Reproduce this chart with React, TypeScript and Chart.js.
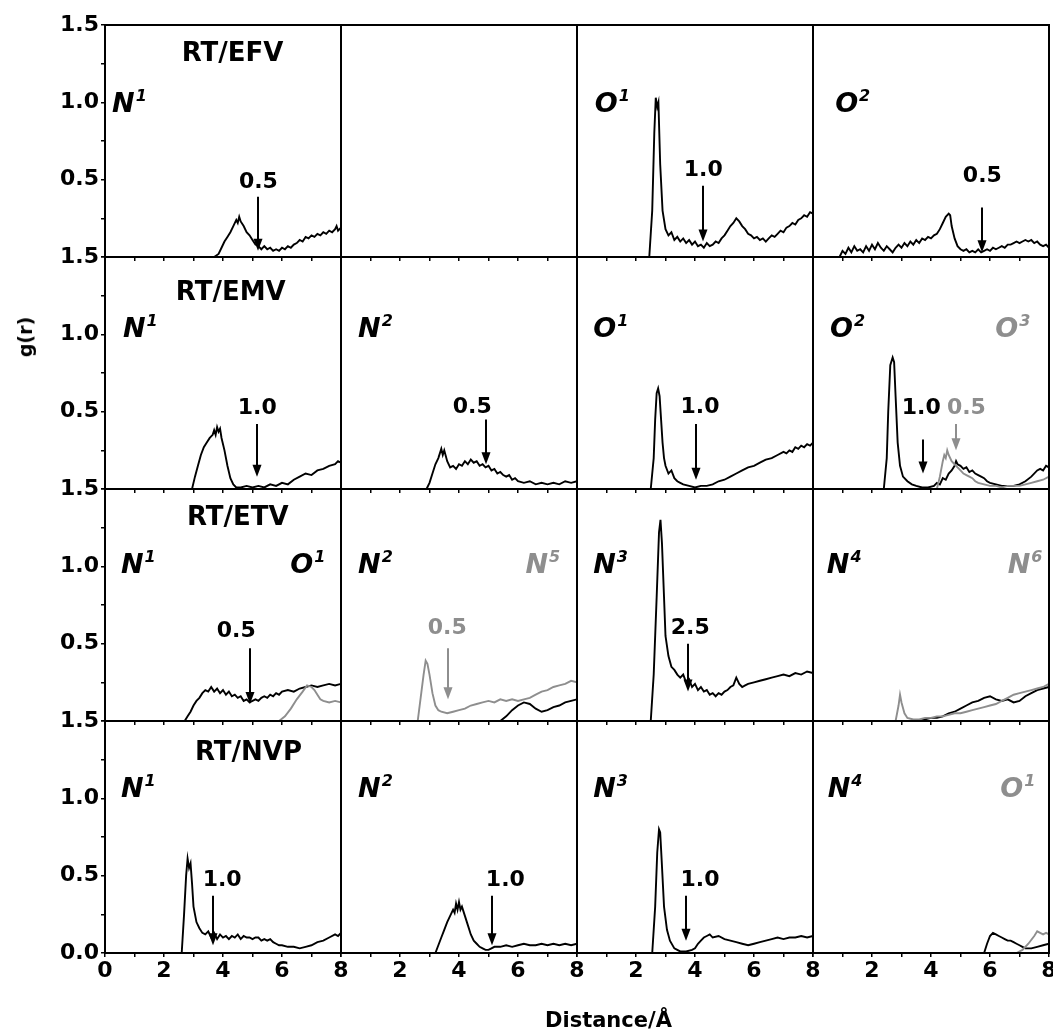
import React, { useEffect, useRef } from 'react';
import { Chart, registerables } from 'chart.js';

Chart.register(...registerables);

type Pt = [number, number];

// ---------- data: g(r) curves, [distance Å, g(r)] ----------
const EFV_N1: Pt[] = [[3.7,0],[3.85,0.02],[3.95,0.06],[4.05,0.1],[4.15,0.13],[4.25,0.16],[4.35,0.2],[4.45,0.24],[4.5,0.22],[4.55,0.26],[4.6,0.23],[4.7,0.2],[4.8,0.16],[4.9,0.14],[5.0,0.11],[5.1,0.08],[5.2,0.07],[5.3,0.05],[5.4,0.07],[5.5,0.05],[5.6,0.06],[5.7,0.04],[5.8,0.05],[5.9,0.04],[6.0,0.06],[6.1,0.05],[6.2,0.07],[6.3,0.06],[6.4,0.08],[6.5,0.09],[6.6,0.11],[6.7,0.1],[6.8,0.13],[6.9,0.12],[7.0,0.14],[7.1,0.13],[7.2,0.15],[7.3,0.14],[7.4,0.16],[7.5,0.15],[7.6,0.17],[7.7,0.16],[7.8,0.18],[7.85,0.2],[7.9,0.17],[8.0,0.19]];
const EFV_O1: Pt[] = [[2.45,0],[2.55,0.3],[2.62,0.8],[2.67,1.03],[2.72,0.97],[2.76,1.0],[2.82,0.6],[2.9,0.3],[3.0,0.18],[3.1,0.14],[3.2,0.16],[3.3,0.11],[3.4,0.13],[3.5,0.1],[3.6,0.12],[3.7,0.09],[3.8,0.11],[3.9,0.08],[4.0,0.1],[4.1,0.07],[4.2,0.08],[4.3,0.06],[4.4,0.09],[4.5,0.07],[4.6,0.08],[4.7,0.1],[4.8,0.09],[4.9,0.12],[5.0,0.14],[5.1,0.17],[5.2,0.2],[5.3,0.22],[5.4,0.25],[5.5,0.23],[5.6,0.2],[5.7,0.18],[5.8,0.15],[5.9,0.14],[6.0,0.12],[6.1,0.13],[6.2,0.11],[6.3,0.12],[6.4,0.1],[6.5,0.12],[6.6,0.14],[6.7,0.13],[6.8,0.15],[6.9,0.17],[7.0,0.16],[7.1,0.19],[7.2,0.2],[7.3,0.22],[7.4,0.21],[7.5,0.24],[7.6,0.25],[7.7,0.27],[7.8,0.26],[7.9,0.29],[8.0,0.28]];
const EFV_O2: Pt[] = [[0.9,0],[1.0,0.04],[1.1,0.02],[1.2,0.06],[1.3,0.03],[1.4,0.07],[1.5,0.04],[1.6,0.05],[1.7,0.03],[1.8,0.07],[1.9,0.04],[2.0,0.08],[2.1,0.05],[2.2,0.09],[2.3,0.06],[2.4,0.04],[2.5,0.07],[2.6,0.05],[2.7,0.03],[2.8,0.06],[2.9,0.08],[3.0,0.06],[3.1,0.09],[3.2,0.07],[3.3,0.1],[3.4,0.08],[3.5,0.11],[3.6,0.09],[3.7,0.12],[3.8,0.11],[3.9,0.13],[4.0,0.12],[4.1,0.14],[4.2,0.15],[4.3,0.18],[4.4,0.22],[4.5,0.26],[4.6,0.28],[4.65,0.27],[4.7,0.2],[4.8,0.12],[4.9,0.07],[5.0,0.05],[5.1,0.04],[5.2,0.05],[5.3,0.03],[5.4,0.04],[5.5,0.03],[5.6,0.05],[5.7,0.03],[5.8,0.04],[5.9,0.05],[6.0,0.04],[6.1,0.06],[6.2,0.05],[6.3,0.06],[6.4,0.07],[6.5,0.06],[6.6,0.08],[6.7,0.08],[6.8,0.09],[6.9,0.1],[7.0,0.09],[7.1,0.1],[7.2,0.11],[7.3,0.1],[7.4,0.11],[7.5,0.09],[7.6,0.1],[7.7,0.08],[7.8,0.07],[7.9,0.08],[8.0,0.06]];

const EMV_N1: Pt[] = [[2.95,0],[3.05,0.08],[3.15,0.15],[3.25,0.22],[3.35,0.27],[3.45,0.3],[3.55,0.33],[3.65,0.35],[3.7,0.38],[3.75,0.35],[3.8,0.4],[3.85,0.37],[3.9,0.39],[3.95,0.33],[4.05,0.25],[4.15,0.15],[4.25,0.07],[4.35,0.03],[4.45,0.01],[4.6,0.01],[4.8,0.02],[5.0,0.01],[5.2,0.02],[5.4,0.01],[5.6,0.03],[5.8,0.02],[6.0,0.04],[6.2,0.03],[6.4,0.06],[6.6,0.08],[6.8,0.1],[7.0,0.09],[7.2,0.12],[7.4,0.13],[7.6,0.15],[7.8,0.16],[7.9,0.18],[8.0,0.17]];
const EMV_N2: Pt[] = [[2.9,0],[3.0,0.04],[3.1,0.1],[3.2,0.16],[3.3,0.2],[3.4,0.26],[3.45,0.22],[3.5,0.25],[3.6,0.18],[3.7,0.14],[3.8,0.15],[3.9,0.13],[4.0,0.16],[4.1,0.15],[4.2,0.18],[4.3,0.16],[4.4,0.19],[4.5,0.17],[4.6,0.18],[4.7,0.15],[4.8,0.16],[4.9,0.14],[5.0,0.15],[5.1,0.12],[5.2,0.13],[5.3,0.1],[5.4,0.11],[5.5,0.09],[5.6,0.08],[5.7,0.09],[5.8,0.06],[5.9,0.07],[6.0,0.05],[6.2,0.04],[6.4,0.05],[6.6,0.03],[6.8,0.04],[7.0,0.03],[7.2,0.04],[7.4,0.03],[7.6,0.05],[7.8,0.04],[8.0,0.05]];
const EMV_O1: Pt[] = [[2.5,0],[2.6,0.2],[2.65,0.45],[2.7,0.62],[2.75,0.65],[2.8,0.6],[2.85,0.45],[2.9,0.3],[2.95,0.2],[3.0,0.15],[3.1,0.1],[3.2,0.12],[3.3,0.07],[3.4,0.05],[3.5,0.04],[3.6,0.03],[3.8,0.02],[4.0,0.01],[4.2,0.02],[4.4,0.02],[4.6,0.03],[4.8,0.05],[5.0,0.06],[5.2,0.08],[5.4,0.1],[5.6,0.12],[5.8,0.14],[6.0,0.15],[6.2,0.17],[6.4,0.19],[6.6,0.2],[6.8,0.22],[7.0,0.24],[7.1,0.23],[7.2,0.25],[7.3,0.24],[7.4,0.27],[7.5,0.26],[7.6,0.28],[7.7,0.27],[7.8,0.29],[7.9,0.28],[8.0,0.3]];
const EMV_O2: Pt[] = [[2.4,0],[2.5,0.2],[2.55,0.5],[2.62,0.8],[2.7,0.85],[2.75,0.82],[2.8,0.6],[2.87,0.3],[2.95,0.15],[3.05,0.08],[3.2,0.05],[3.35,0.03],[3.5,0.02],[3.7,0.01],[3.9,0.01],[4.1,0.02],[4.2,0.04],[4.3,0.03],[4.4,0.07],[4.5,0.06],[4.6,0.1],[4.7,0.12],[4.8,0.15],[4.85,0.18],[4.9,0.16],[5.0,0.15],[5.1,0.13],[5.2,0.14],[5.3,0.11],[5.4,0.12],[5.5,0.1],[5.6,0.09],[5.7,0.08],[5.8,0.07],[5.9,0.05],[6.0,0.04],[6.2,0.03],[6.4,0.02],[6.6,0.02],[6.8,0.02],[7.0,0.03],[7.2,0.05],[7.4,0.08],[7.6,0.12],[7.7,0.13],[7.8,0.12],[7.9,0.15],[8.0,0.14]];
const EMV_O3: Pt[] = [[4.2,0],[4.3,0.08],[4.4,0.18],[4.45,0.22],[4.5,0.2],[4.55,0.25],[4.6,0.22],[4.7,0.18],[4.8,0.16],[4.9,0.14],[5.0,0.12],[5.1,0.1],[5.2,0.09],[5.3,0.08],[5.4,0.07],[5.5,0.05],[5.6,0.04],[5.8,0.03],[6.0,0.02],[6.2,0.02],[6.4,0.01],[6.6,0.02],[6.8,0.02],[7.0,0.02],[7.2,0.03],[7.4,0.04],[7.6,0.05],[7.8,0.06],[8.0,0.08]];

const ETV_N1: Pt[] = [[2.7,0],[2.8,0.03],[2.9,0.06],[3.0,0.1],[3.1,0.13],[3.2,0.15],[3.3,0.18],[3.4,0.2],[3.5,0.19],[3.6,0.22],[3.7,0.19],[3.8,0.21],[3.9,0.18],[4.0,0.2],[4.1,0.17],[4.2,0.19],[4.3,0.16],[4.4,0.17],[4.5,0.15],[4.6,0.16],[4.7,0.13],[4.8,0.14],[4.9,0.12],[5.0,0.13],[5.1,0.14],[5.2,0.13],[5.3,0.15],[5.4,0.16],[5.5,0.15],[5.6,0.17],[5.7,0.16],[5.8,0.18],[5.9,0.17],[6.0,0.19],[6.2,0.2],[6.4,0.19],[6.6,0.21],[6.8,0.22],[7.0,0.23],[7.2,0.22],[7.4,0.23],[7.6,0.24],[7.8,0.23],[8.0,0.24]];
const ETV_O1: Pt[] = [[5.9,0],[6.1,0.03],[6.3,0.08],[6.5,0.14],[6.7,0.19],[6.85,0.23],[7.0,0.22],[7.1,0.2],[7.2,0.17],[7.3,0.14],[7.4,0.13],[7.6,0.12],[7.8,0.13],[8.0,0.12]];
const ETV_N2: Pt[] = [[5.4,0],[5.6,0.03],[5.8,0.07],[6.0,0.1],[6.2,0.12],[6.4,0.11],[6.6,0.08],[6.8,0.06],[7.0,0.07],[7.2,0.09],[7.4,0.1],[7.6,0.12],[7.8,0.13],[8.0,0.14]];
const ETV_N5: Pt[] = [[2.6,0],[2.7,0.15],[2.8,0.3],[2.87,0.39],[2.93,0.37],[3.0,0.3],[3.1,0.18],[3.2,0.1],[3.3,0.07],[3.4,0.06],[3.6,0.05],[3.8,0.06],[4.0,0.07],[4.2,0.08],[4.4,0.1],[4.6,0.11],[4.8,0.12],[5.0,0.13],[5.2,0.12],[5.4,0.14],[5.6,0.13],[5.8,0.14],[6.0,0.13],[6.2,0.14],[6.4,0.15],[6.6,0.17],[6.8,0.19],[7.0,0.2],[7.2,0.22],[7.4,0.23],[7.6,0.24],[7.8,0.26],[8.0,0.25]];
const ETV_N3: Pt[] = [[2.5,0],[2.6,0.3],[2.7,0.8],[2.78,1.22],[2.83,1.3],[2.88,1.15],[2.95,0.8],[3.0,0.55],[3.1,0.42],[3.2,0.35],[3.3,0.33],[3.4,0.3],[3.5,0.28],[3.6,0.3],[3.7,0.25],[3.8,0.27],[3.9,0.22],[4.0,0.24],[4.1,0.2],[4.2,0.22],[4.3,0.19],[4.4,0.2],[4.5,0.17],[4.6,0.18],[4.7,0.16],[4.8,0.18],[4.9,0.17],[5.0,0.19],[5.1,0.2],[5.2,0.22],[5.3,0.23],[5.4,0.28],[5.5,0.24],[5.6,0.22],[5.7,0.23],[5.8,0.24],[6.0,0.25],[6.2,0.26],[6.4,0.27],[6.6,0.28],[6.8,0.29],[7.0,0.3],[7.2,0.29],[7.4,0.31],[7.6,0.3],[7.8,0.32],[8.0,0.31]];
const ETV_N4: Pt[] = [[3.6,0],[3.8,0.01],[4.0,0.02],[4.2,0.02],[4.4,0.03],[4.6,0.05],[4.8,0.06],[5.0,0.08],[5.2,0.1],[5.4,0.12],[5.6,0.13],[5.8,0.15],[6.0,0.16],[6.2,0.14],[6.4,0.13],[6.6,0.14],[6.8,0.12],[7.0,0.13],[7.2,0.16],[7.4,0.18],[7.6,0.2],[7.8,0.21],[8.0,0.22]];
const ETV_N6: Pt[] = [[2.8,0],[2.9,0.1],[2.95,0.17],[3.0,0.12],[3.1,0.05],[3.2,0.02],[3.4,0.01],[3.6,0.01],[3.8,0.02],[4.0,0.02],[4.2,0.03],[4.4,0.03],[4.6,0.04],[4.8,0.05],[5.0,0.05],[5.2,0.06],[5.4,0.07],[5.6,0.08],[5.8,0.09],[6.0,0.1],[6.2,0.11],[6.4,0.13],[6.6,0.15],[6.8,0.17],[7.0,0.18],[7.2,0.19],[7.4,0.2],[7.6,0.21],[7.8,0.22],[8.0,0.24]];

const NVP_N1: Pt[] = [[2.6,0],[2.68,0.25],[2.75,0.5],[2.8,0.61],[2.85,0.55],[2.9,0.58],[2.95,0.45],[3.0,0.3],[3.1,0.2],[3.2,0.16],[3.3,0.13],[3.4,0.12],[3.5,0.14],[3.6,0.1],[3.7,0.13],[3.8,0.09],[3.9,0.12],[4.0,0.1],[4.1,0.11],[4.2,0.09],[4.3,0.11],[4.4,0.1],[4.5,0.12],[4.6,0.09],[4.7,0.11],[4.8,0.1],[4.9,0.1],[5.0,0.09],[5.1,0.1],[5.2,0.1],[5.3,0.08],[5.4,0.09],[5.5,0.08],[5.6,0.09],[5.7,0.07],[5.8,0.06],[5.9,0.05],[6.0,0.05],[6.2,0.04],[6.4,0.04],[6.6,0.03],[6.8,0.04],[7.0,0.05],[7.2,0.07],[7.4,0.08],[7.6,0.1],[7.8,0.12],[7.9,0.11],[8.0,0.13]];
const NVP_N2: Pt[] = [[3.2,0],[3.3,0.05],[3.4,0.1],[3.5,0.15],[3.6,0.2],[3.7,0.24],[3.8,0.28],[3.85,0.26],[3.9,0.32],[3.95,0.28],[4.0,0.33],[4.05,0.28],[4.1,0.3],[4.2,0.24],[4.3,0.18],[4.4,0.12],[4.5,0.08],[4.6,0.06],[4.7,0.04],[4.8,0.03],[4.9,0.02],[5.0,0.02],[5.1,0.03],[5.2,0.04],[5.4,0.04],[5.6,0.05],[5.8,0.04],[6.0,0.05],[6.2,0.06],[6.4,0.05],[6.6,0.05],[6.8,0.06],[7.0,0.05],[7.2,0.06],[7.4,0.05],[7.6,0.06],[7.8,0.05],[8.0,0.06]];
const NVP_N3: Pt[] = [[2.55,0],[2.65,0.3],[2.72,0.65],[2.78,0.8],[2.82,0.78],[2.87,0.6],[2.95,0.3],[3.05,0.15],[3.15,0.08],[3.3,0.03],[3.5,0.01],[3.7,0.01],[3.9,0.02],[4.0,0.03],[4.1,0.06],[4.2,0.08],[4.3,0.1],[4.4,0.11],[4.5,0.12],[4.6,0.1],[4.8,0.11],[5.0,0.09],[5.2,0.08],[5.4,0.07],[5.6,0.06],[5.8,0.05],[6.0,0.06],[6.2,0.07],[6.4,0.08],[6.6,0.09],[6.8,0.1],[7.0,0.09],[7.2,0.1],[7.4,0.1],[7.6,0.11],[7.8,0.1],[8.0,0.11]];
const NVP_N4: Pt[] = [[5.8,0],[5.9,0.06],[6.0,0.11],[6.1,0.13],[6.2,0.12],[6.3,0.11],[6.4,0.1],[6.5,0.09],[6.6,0.08],[6.7,0.08],[6.8,0.07],[6.9,0.06],[7.0,0.05],[7.1,0.04],[7.2,0.03],[7.4,0.03],[7.6,0.04],[7.8,0.05],[8.0,0.06]];
const NVP_O1: Pt[] = [[6.9,0],[7.1,0.02],[7.3,0.06],[7.5,0.11],[7.6,0.14],[7.7,0.13],[7.8,0.12],[7.9,0.13],[8.0,0.12]];

// ---------- axis ticks ----------
const X_MIN = 0, X_MAX = 8, X_STEP = 1;
const Y_MIN = 0, Y_MAX = 1.5, Y_STEP = 0.25;

const BLACK = '#000000';
const GRAY = '#8e8e8e';
const FONT = '"DejaVu Sans", "Liberation Sans", Arial, sans-serif';

interface Series { pts: Pt[]; color: string }
interface Arrow { x: number; yTop: number; yTip: number; label: string; lx: number; ly: number; color: string }
interface Tag { text: string; sup: string; x: number; y: number; color: string }
interface Panel { row: number; col: number; title?: { text: string; x: number; y: number }; series: Series[]; tags: Tag[]; arrows: Arrow[] }

const TITLES = ['RT/EFV', 'RT/EMV', 'RT/ETV', 'RT/NVP'];

const PANELS: Panel[] = [
  { row: 0, col: 0, title: { text: TITLES[0], x: 2.6, y: 1.27 }, series: [{ pts: EFV_N1, color: BLACK }],
    tags: [{ text: 'N', sup: '1', x: 0.24, y: 0.94, color: BLACK }],
    arrows: [{ x: 5.2, yTop: 0.39, yTip: 0.04, label: '0.5', lx: 5.2, ly: 0.48, color: BLACK }] },
  { row: 0, col: 1, series: [], tags: [], arrows: [] },
  { row: 0, col: 2, series: [{ pts: EFV_O1, color: BLACK }],
    tags: [{ text: 'O', sup: '1', x: 0.6, y: 0.94, color: BLACK }],
    arrows: [{ x: 4.28, yTop: 0.46, yTip: 0.1, label: '1.0', lx: 4.28, ly: 0.56, color: BLACK }] },
  { row: 0, col: 3, series: [{ pts: EFV_O2, color: BLACK }],
    tags: [{ text: 'O', sup: '2', x: 0.75, y: 0.94, color: BLACK }],
    arrows: [{ x: 5.74, yTop: 0.32, yTip: 0.03, label: '0.5', lx: 5.74, ly: 0.52, color: BLACK }] },

  { row: 1, col: 0, title: { text: TITLES[1], x: 2.4, y: 1.22 }, series: [{ pts: EMV_N1, color: BLACK }],
    tags: [{ text: 'N', sup: '1', x: 0.61, y: 0.98, color: BLACK }],
    arrows: [{ x: 5.16, yTop: 0.42, yTip: 0.08, label: '1.0', lx: 5.16, ly: 0.52, color: BLACK }] },
  { row: 1, col: 1, series: [{ pts: EMV_N2, color: BLACK }],
    tags: [{ text: 'N', sup: '2', x: 0.58, y: 0.98, color: BLACK }],
    arrows: [{ x: 4.9, yTop: 0.45, yTip: 0.16, label: '0.5', lx: 4.45, ly: 0.53, color: BLACK }] },
  { row: 1, col: 2, series: [{ pts: EMV_O1, color: BLACK }],
    tags: [{ text: 'O', sup: '1', x: 0.55, y: 0.98, color: BLACK }],
    arrows: [{ x: 4.04, yTop: 0.42, yTip: 0.06, label: '1.0', lx: 4.17, ly: 0.53, color: BLACK }] },
  { row: 1, col: 3, series: [{ pts: EMV_O3, color: GRAY }, { pts: EMV_O2, color: BLACK }],
    tags: [{ text: 'O', sup: '2', x: 0.58, y: 0.98, color: BLACK }, { text: 'O', sup: '3', x: 6.18, y: 0.98, color: GRAY }],
    arrows: [{ x: 3.73, yTop: 0.32, yTip: 0.1, label: '1.0', lx: 3.67, ly: 0.52, color: BLACK },
             { x: 4.85, yTop: 0.42, yTip: 0.25, label: '0.5', lx: 5.2, ly: 0.52, color: GRAY }] },

  { row: 2, col: 0, title: { text: TITLES[2], x: 2.78, y: 1.27 }, series: [{ pts: ETV_O1, color: GRAY }, { pts: ETV_N1, color: BLACK }],
    tags: [{ text: 'N', sup: '1', x: 0.54, y: 0.96, color: BLACK }, { text: 'O', sup: '1', x: 6.28, y: 0.96, color: BLACK }],
    arrows: [{ x: 4.92, yTop: 0.47, yTip: 0.11, label: '0.5', lx: 4.45, ly: 0.58, color: BLACK }] },
  { row: 2, col: 1, series: [{ pts: ETV_N5, color: GRAY }, { pts: ETV_N2, color: BLACK }],
    tags: [{ text: 'N', sup: '2', x: 0.58, y: 0.96, color: BLACK }, { text: 'N', sup: '5', x: 6.25, y: 0.96, color: GRAY }],
    arrows: [{ x: 3.63, yTop: 0.47, yTip: 0.14, label: '0.5', lx: 3.6, ly: 0.6, color: GRAY }] },
  { row: 2, col: 2, series: [{ pts: ETV_N3, color: BLACK }],
    tags: [{ text: 'N', sup: '3', x: 0.55, y: 0.96, color: BLACK }],
    arrows: [{ x: 3.77, yTop: 0.5, yTip: 0.19, label: '2.5', lx: 3.84, ly: 0.6, color: BLACK }] },
  { row: 2, col: 3, series: [{ pts: ETV_N6, color: GRAY }, { pts: ETV_N4, color: BLACK }],
    tags: [{ text: 'N', sup: '4', x: 0.47, y: 0.96, color: BLACK }, { text: 'N', sup: '6', x: 6.6, y: 0.96, color: GRAY }],
    arrows: [] },

  { row: 3, col: 0, title: { text: TITLES[3], x: 3.05, y: 1.25 }, series: [{ pts: NVP_N1, color: BLACK }],
    tags: [{ text: 'N', sup: '1', x: 0.54, y: 1.01, color: BLACK }],
    arrows: [{ x: 3.67, yTop: 0.37, yTip: 0.05, label: '1.0', lx: 3.97, ly: 0.47, color: BLACK }] },
  { row: 3, col: 1, series: [{ pts: NVP_N2, color: BLACK }],
    tags: [{ text: 'N', sup: '2', x: 0.58, y: 1.01, color: BLACK }],
    arrows: [{ x: 5.13, yTop: 0.37, yTip: 0.05, label: '1.0', lx: 5.57, ly: 0.47, color: BLACK }] },
  { row: 3, col: 2, series: [{ pts: NVP_N3, color: BLACK }],
    tags: [{ text: 'N', sup: '3', x: 0.55, y: 1.01, color: BLACK }],
    arrows: [{ x: 3.7, yTop: 0.37, yTip: 0.08, label: '1.0', lx: 4.17, ly: 0.47, color: BLACK }] },
  { row: 3, col: 3, series: [{ pts: NVP_O1, color: GRAY }, { pts: NVP_N4, color: BLACK }],
    tags: [{ text: 'N', sup: '4', x: 0.5, y: 1.01, color: BLACK }, { text: 'O', sup: '1', x: 6.35, y: 1.01, color: GRAY }],
    arrows: [] },
];

// ---------- layout (pixels) ----------
const COL_X = [105, 341, 577, 813];
const ROW_Y = [25, 257, 489, 721];
const PW = 236, PH = 232;
const LM = 70, RM = 24, TM = 26, BM = 46;
const CW = LM + PW + RM, CH = TM + PH + BM;

function makeDeco(panel: Panel) {
  return {
    id: 'panelDeco' + panel.row + panel.col,
    afterDraw(chart: any) {
      const { ctx, chartArea: ca, scales } = chart;
      const sx = scales.x, sy = scales.y;
      ctx.save();
      ctx.strokeStyle = BLACK;
      ctx.lineWidth = 2;
      ctx.strokeRect(ca.left, ca.top, ca.right - ca.left, ca.bottom - ca.top);
      ctx.textAlign = 'left';
      ctx.textBaseline = 'alphabetic';
      if (panel.title) {
        ctx.fillStyle = BLACK;
        ctx.font = `bold 26px ${FONT}`;
        ctx.fillText(panel.title.text, sx.getPixelForValue(panel.title.x), sy.getPixelForValue(panel.title.y));
      }
      for (const t of panel.tags) {
        const px = sx.getPixelForValue(t.x), py = sy.getPixelForValue(t.y);
        ctx.fillStyle = t.color;
        ctx.font = `italic bold 27px ${FONT}`;
        ctx.fillText(t.text, px, py);
        const w = ctx.measureText(t.text).width;
        ctx.font = `italic bold 16px ${FONT}`;
        ctx.fillText(t.sup, px + w + 1, py - 11);
      }
      for (const a of panel.arrows) {
        const px = Math.round(sx.getPixelForValue(a.x));
        const pTop = sy.getPixelForValue(a.yTop), pTip = sy.getPixelForValue(a.yTip);
        ctx.strokeStyle = a.color;
        ctx.fillStyle = a.color;
        ctx.lineWidth = 2;
        ctx.beginPath();
        ctx.moveTo(px, pTop);
        ctx.lineTo(px, pTip - 8);
        ctx.stroke();
        ctx.beginPath();
        ctx.moveTo(px - 4.5, pTip - 12);
        ctx.lineTo(px + 4.5, pTip - 12);
        ctx.lineTo(px, pTip);
        ctx.closePath();
        ctx.fill();
        ctx.font = `bold 22px ${FONT}`;
        ctx.textAlign = 'center';
        ctx.textBaseline = 'middle';
        ctx.fillText(a.label, sx.getPixelForValue(a.lx), sy.getPixelForValue(a.ly));
        ctx.textAlign = 'left';
        ctx.textBaseline = 'alphabetic';
      }
      ctx.restore();
    },
  };
}

function PanelChart({ panel }: { panel: Panel }) {
  const ref = useRef<HTMLCanvasElement>(null);
  useEffect(() => {
    if (!ref.current) return;
    const { row, col } = panel;
    const tickFont = { family: FONT, size: 22, weight: 'bold' as const };
    const chart = new Chart(ref.current, {
      type: 'scatter',
      data: {
        datasets: panel.series.map((s) => ({
          data: s.pts.map(([x, y]) => ({ x, y })),
          showLine: true,
          borderColor: s.color,
          backgroundColor: s.color,
          borderWidth: 1.9,
          pointRadius: 0,
          tension: 0,
          fill: false,
        })),
      },
      options: {
        responsive: false,
        animation: false,
        devicePixelRatio: 1,
        events: [],
        layout: { padding: { left: 0, top: TM, right: RM, bottom: 0 } },
        plugins: { legend: { display: false }, tooltip: { enabled: false }, title: { display: false } },
        scales: {
          x: {
            type: 'linear',
            position: 'bottom',
            min: X_MIN,
            max: X_MAX,
            ticks: {
              stepSize: X_STEP,
              autoSkip: false,
              maxRotation: 0,
              display: row === 3,
              color: BLACK,
              font: tickFont,
              padding: 1,
              callback: (v: any) => {
                const n = Number(v);
                if (n % 2 !== 0) return '';
                if (n === 0 && col > 0) return '';
                return String(n);
              },
            },
            grid: { display: true, drawOnChartArea: false, drawTicks: true, tickLength: 4, color: BLACK, lineWidth: 1.5 },
            border: { display: false },
            afterFit: (s: any) => { s.height = BM; },
          },
          y: {
            type: 'linear',
            position: 'left',
            min: Y_MIN,
            max: Y_MAX,
            ticks: {
              stepSize: Y_STEP,
              autoSkip: false,
              display: col === 0,
              color: BLACK,
              font: tickFont,
              padding: 2,
              callback: (v: any) => {
                const n = Number(v);
                if (Math.abs(n * 2 - Math.round(n * 2)) > 1e-6) return '';
                if (n === 0 && row < 3) return '';
                return n.toFixed(1);
              },
            },
            grid: { display: true, drawOnChartArea: false, drawTicks: col === 0, tickLength: 4, color: BLACK, lineWidth: 1.5 },
            border: { display: false },
            afterFit: (s: any) => { s.width = LM; },
          },
        },
      },
      plugins: [makeDeco(panel)],
    } as any);
    return () => chart.destroy();
  }, [panel]);
  return (
    <div style={{ position: 'absolute', left: COL_X[panel.col] - LM, top: ROW_Y[panel.row] - TM, width: CW, height: CH }}>
      <canvas ref={ref} width={CW} height={CH} style={{ width: CW, height: CH, display: 'block' }} />
    </div>
  );
}

export default function App() {
  return (
    <div style={{ position: 'absolute', left: 0, top: 0, width: 1053, height: 1031, background: '#ffffff', overflow: 'hidden' }}>
      {PANELS.map((p) => (
        <PanelChart key={`${p.row}-${p.col}`} panel={p} />
      ))}
      <div style={{ position: 'absolute', left: 25, top: 337, transform: 'translate(-50%, -50%) rotate(-90deg)', fontFamily: FONT, fontWeight: 'bold', fontSize: 19, color: BLACK, whiteSpace: 'nowrap' }}>g(r)</div>
      <div style={{ position: 'absolute', left: 545, top: 1020, transform: 'translateY(-50%)', fontFamily: FONT, fontWeight: 'bold', fontSize: 21, color: BLACK, whiteSpace: 'nowrap' }}>Distance/Å</div>
    </div>
  );
}
